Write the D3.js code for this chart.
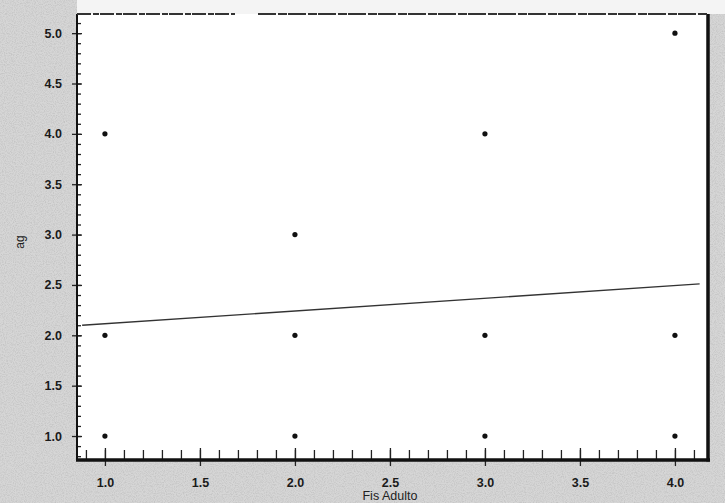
<!DOCTYPE html>
<html>
<head>
<meta charset="utf-8">
<script src="https://cdn.jsdelivr.net/npm/d3@7"></script>
<style>
  body { margin: 0; background: #fff; }
  svg { display: block; }
  .tick text { font-family: "Liberation Sans", Arial, sans-serif; font-size: 12.5px; font-weight: bold; fill: #1a1a1a; }
</style>
</head>
<body>
<script>
// values
var xTicks = [1.0, 1.5, 2.0, 2.5, 3.0, 3.5, 4.0];
var yTicks = [1.0, 1.5, 2.0, 2.5, 3.0, 3.5, 4.0, 4.5, 5.0];
var fisAdulto = [1, 1, 1, 2, 2, 2, 3, 3, 3, 4, 4, 4];
var ag = [4, 2, 1, 3, 2, 1, 4, 2, 1, 5, 2, 1];
var fitX = [0.88, 4.13];
var fitY = [2.10, 2.51];

var width = 725, height = 503;
var plotLeft = 77, plotRight = 708, plotTop = 14, plotBottom = 460;

var svg = d3.select("body").append("svg")
    .attr("width", width)
    .attr("height", height);

// scanned paper look
var defs = svg.append("defs");
var f = defs.append("filter").attr("id", "grain").attr("x", 0).attr("y", 0).attr("width", 1).attr("height", 1);
f.append("feTurbulence").attr("type", "fractalNoise").attr("baseFrequency", 0.9).attr("numOctaves", 2).attr("seed", 3).attr("result", "n");
f.append("feColorMatrix").attr("in", "n").attr("type", "matrix")
    .attr("values", "0 0 0 0 0.55  0 0 0 0 0.55  0 0 0 0 0.55  0 0 0 -2.2 1.35").attr("result", "g");
f.append("feComposite").attr("in", "g").attr("in2", "SourceGraphic").attr("operator", "in");

svg.append("rect").attr("width", width).attr("height", height).attr("fill", "#d6d6d6");
svg.append("rect").attr("width", width).attr("height", height).attr("fill", "#d6d6d6").attr("filter", "url(#grain)");
svg.append("rect").attr("x", plotLeft).attr("y", 0).attr("width", width - plotLeft).attr("height", plotTop).attr("fill", "#f4f4f4");
svg.append("rect").attr("x", plotLeft).attr("y", plotTop).attr("width", plotRight - plotLeft).attr("height", plotBottom - plotTop).attr("fill", "#fff");

var x = d3.scaleLinear().domain([0.853, 4.174]).range([plotLeft, plotRight]);
var y = d3.scaleLinear().domain([0.762, 5.19]).range([plotBottom, plotTop]);

var minorX = d3.range(0.9, 4.15, 0.1);
var minorY = d3.range(0.8, 5.15, 0.1);

function noDomain(g) { g.select(".domain").remove(); }

// x axis: minor ticks inward, majors crossing, labels below
svg.append("g").attr("transform", "translate(0," + plotBottom + ")")
    .call(d3.axisBottom(x).tickValues(minorX).tickSize(-10).tickFormat(""))
    .call(noDomain);
svg.append("g").attr("transform", "translate(0," + plotBottom + ")")
    .call(d3.axisBottom(x).tickValues(xTicks).tickSize(6).tickPadding(12).tickFormat(d3.format(".1f")))
    .call(noDomain);
svg.append("g").attr("transform", "translate(0," + plotBottom + ")")
    .call(d3.axisBottom(x).tickValues(xTicks).tickSize(-12).tickFormat(""))
    .call(noDomain);

// y axis
svg.append("g").attr("transform", "translate(" + plotLeft + ",0)")
    .call(d3.axisLeft(y).tickValues(minorY).tickSize(-4).tickFormat(""))
    .call(noDomain);
svg.append("g").attr("transform", "translate(" + plotLeft + ",0)")
    .call(d3.axisLeft(y).tickValues(yTicks).tickSize(5).tickPadding(10).tickFormat(d3.format(".1f")))
    .call(noDomain);
svg.append("g").attr("transform", "translate(" + plotLeft + ",0)")
    .call(d3.axisLeft(y).tickValues(yTicks).tickSize(-5).tickFormat(""))
    .call(noDomain);

svg.selectAll(".tick line").attr("stroke", "#222").attr("stroke-width", 1.3);

// frame
svg.append("line").attr("x1", plotLeft).attr("x2", plotLeft).attr("y1", plotTop).attr("y2", plotBottom + 1)
    .attr("stroke", "#111").attr("stroke-width", 2);
svg.append("line").attr("x1", plotLeft - 1).attr("x2", plotRight + 2).attr("y1", plotBottom).attr("y2", plotBottom)
    .attr("stroke", "#111").attr("stroke-width", 3.5);
svg.append("line").attr("x1", plotRight).attr("x2", plotRight).attr("y1", plotTop).attr("y2", plotBottom + 1.5)
    .attr("stroke", "#111").attr("stroke-width", 3.5);
svg.append("line").attr("x1", plotLeft).attr("x2", 235).attr("y1", plotTop).attr("y2", plotTop)
    .attr("stroke", "#333").attr("stroke-width", 2).attr("stroke-dasharray", "14,2,6,1");
svg.append("line").attr("x1", 258).attr("x2", plotRight).attr("y1", plotTop).attr("y2", plotTop)
    .attr("stroke", "#333").attr("stroke-width", 2).attr("stroke-dasharray", "18,2,9,1");

// fit line
svg.append("line")
    .attr("x1", x(fitX[0])).attr("y1", y(fitY[0]))
    .attr("x2", x(fitX[1])).attr("y2", y(fitY[1]))
    .attr("stroke", "#333").attr("stroke-width", 1.3);

// points
svg.selectAll("circle.pt")
    .data(fisAdulto)
    .enter()
    .append("circle")
    .attr("class", "pt")
    .attr("cx", function(d) { return x(d); })
    .attr("cy", function(d, i) { return y(ag[i]); })
    .attr("r", 2.6)
    .attr("fill", "#111");

// axis titles
svg.append("text")
    .attr("transform", "translate(24,242) rotate(-90)")
    .attr("text-anchor", "middle")
    .style("font-family", "Liberation Sans, Arial, sans-serif")
    .style("font-size", "12px")
    .style("fill", "#222")
    .text("ag");
svg.append("text")
    .attr("x", x(2.5))
    .attr("y", 500)
    .attr("text-anchor", "middle")
    .style("font-family", "Liberation Sans, Arial, sans-serif")
    .style("font-size", "12.5px")
    .style("fill", "#222")
    .text("Fis Adulto");
</script>
</body>
</html>
